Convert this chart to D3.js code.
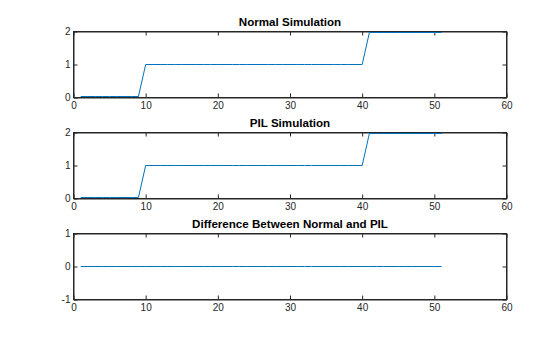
<!DOCTYPE html>
<html>
<head>
<meta charset="utf-8">
<script src="https://cdn.jsdelivr.net/npm/d3@7"></script>
<style>
  body { margin: 0; background: #fff; }
  svg { display: block; font-family: "Liberation Sans", Arial, sans-serif; }
  .tick text { font-size: 10px; fill: #262626; }
  .title { font-size: 11.6px; font-weight: bold; fill: #000; }
</style>
</head>
<body>
<div id="chart"></div>
<script>
// Simulation output samples (time step index)
const time = [1, 2, 3, 4, 5, 6, 7, 8, 9, 10, 11, 12, 13, 14, 15, 16, 17, 18, 19, 20,
  21, 22, 23, 24, 25, 26, 27, 28, 29, 30, 31, 32, 33, 34, 35, 36, 37, 38, 39, 40,
  41, 42, 43, 44, 45, 46, 47, 48, 49, 50, 51];

const normalOut = [0, 0, 0, 0, 0, 0, 0, 0, 0, 1, 1, 1, 1, 1, 1, 1, 1, 1, 1, 1,
  1, 1, 1, 1, 1, 1, 1, 1, 1, 1, 1, 1, 1, 1, 1, 1, 1, 1, 1, 1,
  2, 2, 2, 2, 2, 2, 2, 2, 2, 2, 2];

const pilOut = [0, 0, 0, 0, 0, 0, 0, 0, 0, 1, 1, 1, 1, 1, 1, 1, 1, 1, 1, 1,
  1, 1, 1, 1, 1, 1, 1, 1, 1, 1, 1, 1, 1, 1, 1, 1, 1, 1, 1, 1,
  2, 2, 2, 2, 2, 2, 2, 2, 2, 2, 2];

const diffOut = [0, 0, 0, 0, 0, 0, 0, 0, 0, 0, 0, 0, 0, 0, 0, 0, 0, 0, 0, 0,
  0, 0, 0, 0, 0, 0, 0, 0, 0, 0, 0, 0, 0, 0, 0, 0, 0, 0, 0, 0,
  0, 0, 0, 0, 0, 0, 0, 0, 0, 0, 0];

const xTicks = [0, 10, 20, 30, 40, 50, 60];
const titles = ["Normal Simulation", "PIL Simulation", "Difference Between Normal and PIL"];

const panels = [
  {title: titles[0], values: normalOut, yDomain: [0, 2], yTicks: [0, 1, 2], top: 31.5},
  {title: titles[1], values: pilOut, yDomain: [0, 2], yTicks: [0, 1, 2], top: 132.5},
  {title: titles[2], values: diffOut, yDomain: [-1, 1], yTicks: [-1, 0, 1], top: 233.5}
];

const width = 560, height = 337;
const left = 73.5, right = 506.5, panelH = 66;
const axisColor = "#262626";
const lineColor = "#0072BD";
const tickLen = 4;
const fmt = d => String(d);

const svg = d3.select("#chart").append("svg")
  .attr("width", width)
  .attr("height", height);

const x = d3.scaleLinear().domain([0, 60]).range([left, right]);

panels.forEach(p => {
  // axis scale on the box edges, data scale inset one pixel so limit values sit just inside the box
  const y = d3.scaleLinear().domain(p.yDomain).range([p.top + panelH, p.top]);
  const yData = d3.scaleLinear().domain(p.yDomain).range([p.top + panelH - 1, p.top + 1]);
  const g = svg.append("g");

  // bottom axis with labels (ticks point inward)
  const xb = g.append("g")
    .attr("transform", `translate(0,${p.top + panelH})`)
    .call(d3.axisBottom(x).tickValues(xTicks).tickSizeInner(-tickLen).tickSizeOuter(0)
      .tickPadding(4).tickFormat(fmt));
  // top axis, ticks only
  const xt = g.append("g")
    .attr("transform", `translate(0,${p.top})`)
    .call(d3.axisTop(x).tickValues(xTicks).tickSizeInner(-tickLen).tickSizeOuter(0).tickFormat(""));
  // left axis with labels
  const yl = g.append("g")
    .attr("transform", `translate(${left},0)`)
    .call(d3.axisLeft(y).tickValues(p.yTicks).tickSizeInner(-tickLen).tickSizeOuter(0)
      .tickPadding(3).tickFormat(fmt));
  // right axis, ticks only
  const yr = g.append("g")
    .attr("transform", `translate(${right},0)`)
    .call(d3.axisRight(y).tickValues(p.yTicks).tickSizeInner(-tickLen).tickSizeOuter(0).tickFormat(""));

  [xb, xt, yl, yr].forEach(a => {
    a.select(".domain").attr("stroke", axisColor);
    a.selectAll(".tick line").attr("stroke", axisColor);
    a.attr("font-family", null).attr("font-size", null);
  });

  // box outline
  g.append("rect")
    .attr("x", left).attr("y", p.top)
    .attr("width", right - left).attr("height", panelH)
    .attr("fill", "none")
    .attr("stroke", axisColor)
    .attr("stroke-width", 1);

  // data line
  const line = d3.line()
    .x((d, i) => x(time[i]))
    .y(d => yData(d));

  g.append("path")
    .datum(p.values)
    .attr("fill", "none")
    .attr("stroke", lineColor)
    .attr("stroke-width", 1)
    .attr("d", line);

  // title
  g.append("text")
    .attr("class", "title")
    .attr("x", (left + right) / 2)
    .attr("y", p.top - 5.5)
    .attr("text-anchor", "middle")
    .text(p.title);
});
</script>
</body>
</html>
